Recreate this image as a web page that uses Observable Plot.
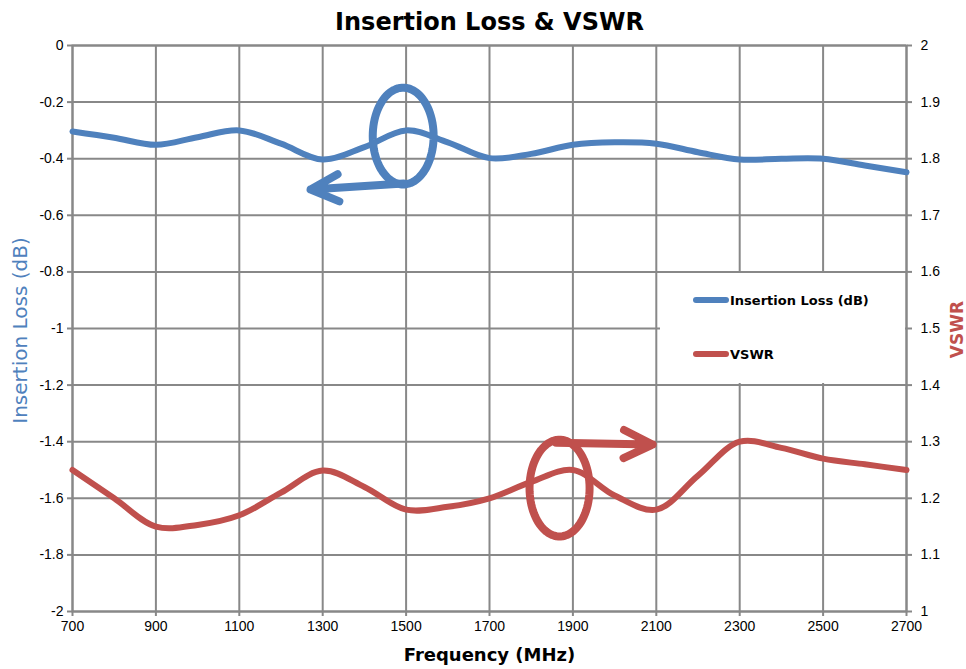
<!DOCTYPE html>
<html>
<head>
<meta charset="utf-8">
<script src="https://cdn.jsdelivr.net/npm/d3@7"></script>
<script src="https://cdn.jsdelivr.net/npm/@observablehq/plot@0.6"></script>
<style>
  body { margin: 0; background: #fff; }
  #wrap { position: relative; width: 966px; height: 669px; }
  #legend { position: absolute; left: 660px; top: 273px; width: 245px; height: 110px; background: #fff;
            font-family: "DejaVu Sans", sans-serif; font-weight: bold; font-size: 13px; color: #000; }
  .item { position: absolute; left: 33px; display: flex; align-items: center; height: 16px; }
  .sw { width: 36px; height: 6px; border-radius: 3px; margin-right: 1px; }
</style>
</head>
<body>
<div id="wrap"><div id="legend"></div></div>
<script>
// ---- data ----
const frequency = [700, 800, 900, 1000, 1100, 1200, 1300, 1400, 1500, 1600, 1700,
                   1800, 1900, 2000, 2100, 2200, 2300, 2400, 2500, 2600, 2700];
const insertionLoss = [-0.304, -0.326, -0.351, -0.324, -0.300, -0.347, -0.403, -0.359, -0.300, -0.342, -0.398,
                       -0.383, -0.351, -0.342, -0.347, -0.377, -0.403, -0.400, -0.400, -0.424, -0.448];
const vswr = [1.250, 1.200, 1.150, 1.153, 1.170, 1.210, 1.249, 1.220, 1.180, 1.185, 1.200,
              1.229, 1.250, 1.205, 1.180, 1.240, 1.300, 1.289, 1.270, 1.260, 1.250];
const xTicks = [700, 900, 1100, 1300, 1500, 1700, 1900, 2100, 2300, 2500, 2700];
const lossTicks = [0, -0.2, -0.4, -0.6, -0.8, -1, -1.2, -1.4, -1.6, -1.8, -2];
const vswrTicks = [2, 1.9, 1.8, 1.7, 1.6, 1.5, 1.4, 1.3, 1.2, 1.1, 1];
const seriesNames = ["Insertion Loss (dB)", "VSWR"];
const seriesColors = ["#4F81BD", "#C0504D"];
const titleText = "Insertion Loss & VSWR";
const xLabel = "Frequency (MHz)";

// hand-drawn annotations (data units)
const ellipseCx = [1493, 1868];
const ellipseCy = [-0.32, -1.564];
const ellipseRx = [73, 72];
const ellipseRy = [0.171, 0.171];
const arrowX1 = [1494, 1860];
const arrowY1 = [-0.488, -1.404];
const arrowX2 = [1271, 2091];
const arrowY2 = [-0.509, -1.41];

// VSWR (1..2) shares the left scale (-2..0)
const toLoss = v => (v - 2) * 2;
const fmt = v => String(+(+v).toFixed(1));

const rows = frequency.map((f, i) => ({f, il: insertionLoss[i], vs: toLoss(vswr[i])}));
const ellipsePts = ellipseCx.flatMap((cx, k) =>
  d3.range(0, 361, 4).map(a => ({
    k, x: cx + ellipseRx[k] * Math.cos(a * Math.PI / 180),
    y: ellipseCy[k] + ellipseRy[k] * Math.sin(a * Math.PI / 180)
  })));
const arrows = arrowX1.map((x1, k) => ({k, x1, y1: arrowY1[k], x2: arrowX2[k], y2: arrowY2[k]}));

const grid = "#888888";
const chart = Plot.plot({
  width: 966, height: 669,
  marginLeft: 72, marginRight: 60, marginTop: 45, marginBottom: 58,
  style: {fontFamily: "Liberation Sans, Arial, sans-serif", background: "#fff"},
  x: {domain: [700, 2700]},
  y: {domain: [-2, 0]},
  marks: [
    Plot.gridX(xTicks, {stroke: grid, strokeOpacity: 1, strokeWidth: 2}),
    Plot.gridY(lossTicks, {stroke: grid, strokeOpacity: 1, strokeWidth: 2}),
    Plot.frame({stroke: grid, strokeWidth: 2}),
    Plot.axisX(xTicks, {anchor: "bottom", tickSize: 5, tickPadding: 5, fontSize: 14, stroke: grid, strokeWidth: 2, label: null, tickFormat: d => String(d)}),
    Plot.axisY(lossTicks, {anchor: "left", tickSize: 5, tickPadding: 4, fontSize: 14, stroke: grid, strokeWidth: 2, label: null, tickFormat: fmt}),
    Plot.axisY(vswrTicks.map(toLoss), {anchor: "right", tickSize: 5, tickPadding: 9, fontSize: 14, stroke: grid, strokeWidth: 2, label: null, tickFormat: d => fmt(d / 2 + 2)}),
    Plot.line(rows, {x: "f", y: "il", stroke: seriesColors[0], strokeWidth: 6, curve: "catmull-rom"}),
    Plot.line(rows, {x: "f", y: "vs", stroke: seriesColors[1], strokeWidth: 6, curve: "catmull-rom"}),
    Plot.line(ellipsePts, {x: "x", y: "y", z: "k", stroke: d => seriesColors[d.k], strokeWidth: 8, curve: "linear"}),
    Plot.arrow(arrows, {x1: "x1", y1: "y1", x2: "x2", y2: "y2", stroke: d => seriesColors[d.k], strokeWidth: 8, headLength: 6, headAngle: 52, strokeLinecap: "round", strokeLinejoin: "round"}),
    Plot.text([titleText], {text: d => d, frameAnchor: "top", dy: -23, lineAnchor: "middle", fontSize: 24, fontWeight: "bold", fontFamily: "DejaVu Sans", fill: "#000"}),
    Plot.text([xLabel], {text: d => d, frameAnchor: "bottom", dy: 44, lineAnchor: "middle", fontSize: 18, fontWeight: "bold", fontFamily: "DejaVu Sans", fill: "#000"}),
    Plot.text([seriesNames[0]], {text: d => d, frameAnchor: "left", dx: -52, dy: 2, rotate: -90, textAnchor: "middle", lineAnchor: "middle", fontSize: 20, fontFamily: "DejaVu Sans", fill: seriesColors[0]}),
    Plot.text([seriesNames[1]], {text: d => d, frameAnchor: "right", dx: 51, dy: 1, rotate: -90, textAnchor: "middle", lineAnchor: "middle", fontSize: 17, fontWeight: "bold", fontFamily: "DejaVu Sans", fill: seriesColors[1]})
  ]
});
const wrap = document.getElementById("wrap");
wrap.insertBefore(chart, wrap.firstChild);

// legend
const legend = document.getElementById("legend");
const itemTops = [19, 73];
seriesNames.forEach((name, i) => {
  const item = document.createElement("div");
  item.className = "item";
  item.style.top = itemTops[i] + "px";
  const sw = document.createElement("span");
  sw.className = "sw";
  sw.style.background = seriesColors[i];
  const lab = document.createElement("span");
  lab.textContent = name;
  item.appendChild(sw); item.appendChild(lab);
  legend.appendChild(item);
});
</script>
</body>
</html>
